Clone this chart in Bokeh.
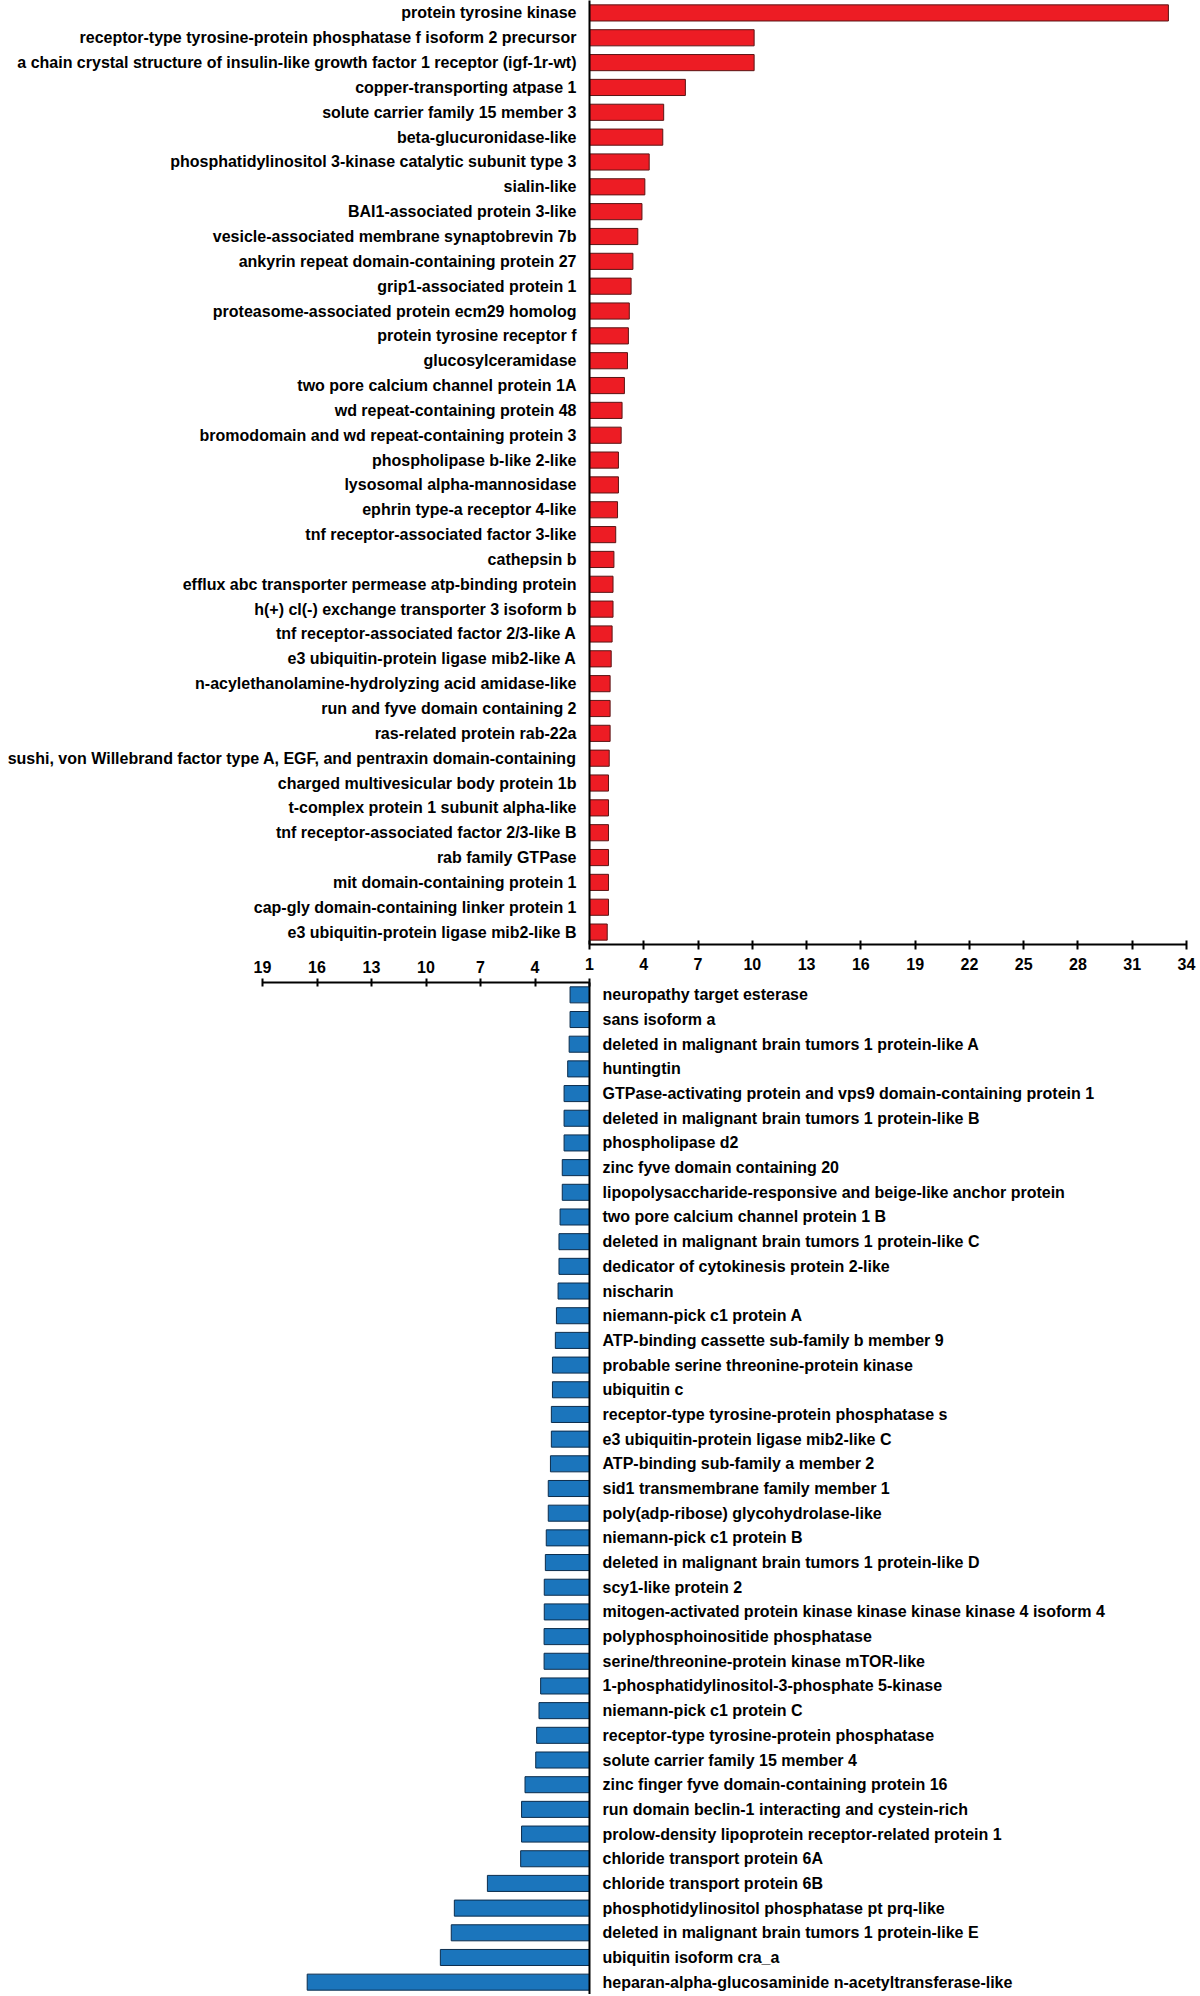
from bokeh.plotting import figure
from bokeh.models import Range1d, FactorRange, FixedTicker, ColumnDataSource
from bokeh.embed import file_html
from bokeh.resources import INLINE

# ---------------- data ----------------
up_genes = [
    "protein tyrosine kinase",
    "receptor-type tyrosine-protein phosphatase f isoform 2 precursor",
    "a chain crystal structure of insulin-like growth factor 1 receptor (igf-1r-wt)",
    "copper-transporting atpase 1",
    "solute carrier family 15 member 3",
    "beta-glucuronidase-like",
    "phosphatidylinositol 3-kinase catalytic subunit type 3",
    "sialin-like",
    "BAI1-associated protein 3-like",
    "vesicle-associated membrane synaptobrevin 7b",
    "ankyrin repeat domain-containing protein 27",
    "grip1-associated protein 1",
    "proteasome-associated protein ecm29 homolog",
    "protein tyrosine receptor f",
    "glucosylceramidase",
    "two pore calcium channel protein 1A",
    "wd repeat-containing protein 48",
    "bromodomain and wd repeat-containing protein 3",
    "phospholipase b-like 2-like",
    "lysosomal alpha-mannosidase",
    "ephrin type-a receptor 4-like",
    "tnf receptor-associated factor 3-like",
    "cathepsin b",
    "efflux abc transporter permease atp-binding protein",
    "h(+) cl(-) exchange transporter 3 isoform b",
    "tnf receptor-associated factor 2/3-like A",
    "e3 ubiquitin-protein ligase mib2-like A",
    "n-acylethanolamine-hydrolyzing acid amidase-like",
    "run and fyve domain containing 2",
    "ras-related protein rab-22a",
    "sushi, von Willebrand factor type A, EGF, and pentraxin domain-containing",
    "charged multivesicular body protein 1b",
    "t-complex protein 1 subunit alpha-like",
    "tnf receptor-associated factor 2/3-like B",
    "rab family GTPase",
    "mit domain-containing protein 1",
    "cap-gly domain-containing linker protein 1",
    "e3 ubiquitin-protein ligase mib2-like B",
]
up_values = [33.0, 10.1, 10.1, 6.3, 5.1, 5.05, 4.3, 4.06, 3.9, 3.67, 3.4, 3.3, 3.2,
             3.15, 3.1, 2.93, 2.8, 2.75, 2.6, 2.6, 2.55, 2.45, 2.35, 2.3, 2.3, 2.25,
             2.2, 2.14, 2.14, 2.14, 2.09, 2.05, 2.05, 2.05, 2.05, 2.05, 2.05, 1.98]

down_genes = [
    "neuropathy target esterase",
    "sans isoform a",
    "deleted in malignant brain tumors 1 protein-like A",
    "huntingtin",
    "GTPase-activating protein and vps9 domain-containing protein 1",
    "deleted in malignant brain tumors 1 protein-like B",
    "phospholipase d2",
    "zinc fyve domain containing 20",
    "lipopolysaccharide-responsive and beige-like anchor protein",
    "two pore calcium channel protein 1 B",
    "deleted in malignant brain tumors 1 protein-like C",
    "dedicator of cytokinesis protein 2-like",
    "nischarin",
    "niemann-pick c1 protein A",
    "ATP-binding cassette sub-family b member 9",
    "probable serine threonine-protein kinase",
    "ubiquitin c",
    "receptor-type tyrosine-protein phosphatase s",
    "e3 ubiquitin-protein ligase mib2-like C",
    "ATP-binding sub-family a member 2",
    "sid1 transmembrane family member 1",
    "poly(adp-ribose) glycohydrolase-like",
    "niemann-pick c1 protein B",
    "deleted in malignant brain tumors 1 protein-like D",
    "scy1-like protein 2",
    "mitogen-activated protein kinase kinase kinase kinase 4 isoform 4",
    "polyphosphoinositide phosphatase",
    "serine/threonine-protein kinase mTOR-like",
    "1-phosphatidylinositol-3-phosphate 5-kinase",
    "niemann-pick c1 protein C",
    "receptor-type tyrosine-protein phosphatase",
    "solute carrier family 15 member 4",
    "zinc finger fyve domain-containing protein 16",
    "run domain beclin-1 interacting and cystein-rich",
    "prolow-density lipoprotein receptor-related protein 1",
    "chloride transport protein 6A",
    "chloride transport protein 6B",
    "phosphotidylinositol phosphatase pt prq-like",
    "deleted in malignant brain tumors 1 protein-like E",
    "ubiquitin isoform cra_a",
    "heparan-alpha-glucosaminide n-acetyltransferase-like",
]
down_values = [2.07, 2.07, 2.12, 2.2, 2.4, 2.4, 2.4, 2.5, 2.5, 2.62, 2.68, 2.68, 2.73,
               2.82, 2.88, 3.04, 3.04, 3.1, 3.1, 3.15, 3.27, 3.27, 3.38, 3.43, 3.49, 3.49,
               3.5, 3.5, 3.69, 3.78, 3.91, 3.96, 4.55, 4.74, 4.74, 4.79, 6.62, 8.44, 8.61,
               9.21, 16.54]

up_ticks = [1, 4, 7, 10, 13, 16, 19, 22, 25, 28, 31, 34]
down_ticks = [19, 16, 13, 10, 7, 4, 1]

# ---------------- style ----------------
FONT = "Liberation Sans"
FS = "16px"
RED = "#ED1C24"
RED_LINE = "#5a1515"
BLUE = "#1B75BC"
BLUE_LINE = "#0c2d4d"


def style_axis(ax):
    ax.major_label_text_font = FONT
    ax.major_label_text_font_style = "bold"
    ax.major_label_text_font_size = FS
    ax.major_label_text_color = "black"
    ax.axis_line_color = "black"
    ax.axis_line_width = 2
    ax.major_tick_line_color = "black"
    ax.major_tick_line_width = 2
    ax.minor_tick_line_color = None


# ---------------- top (up-regulated) ----------------
top = figure(
    frame_width=597, frame_height=944,
    x_range=Range1d(1, 34),
    y_range=FactorRange(factors=up_genes[::-1]),
    output_backend="svg", toolbar_location=None,
    min_border_left=589, min_border_right=14,
    min_border_top=0, min_border_bottom=40,
    border_fill_color=None, background_fill_color=None,
    outline_line_color=None,
)
top.hbar(y="gene", left=1, right="value", height=0.65,
         source=ColumnDataSource(dict(gene=up_genes, value=up_values)),
         fill_color=RED, line_color=RED_LINE, line_width=1)
top.xgrid.visible = False
top.ygrid.visible = False
xa = top.xaxis[0]
style_axis(xa)
xa.ticker = FixedTicker(ticks=up_ticks)
xa.major_tick_in = 4
xa.major_tick_out = 5
xa.major_label_standoff = 8
ya = top.yaxis[0]
style_axis(ya)
ya.major_tick_line_color = None
ya.major_tick_in = 0
ya.major_tick_out = 0
ya.major_label_standoff = 13

# ---------------- bottom (down-regulated) ----------------
bot = figure(
    frame_width=327, frame_height=1012,
    x_range=Range1d(19, 1),
    y_range=FactorRange(factors=down_genes[::-1]),
    x_axis_location="above", y_axis_location="right",
    output_backend="svg", toolbar_location=None,
    min_border_left=262, min_border_right=611,
    min_border_top=38, min_border_bottom=0,
    border_fill_color=None, background_fill_color=None,
    outline_line_color=None,
    margin=(-40, 0, 0, 0),
)
bot.hbar(y="gene", left=1, right="value", height=0.65,
         source=ColumnDataSource(dict(gene=down_genes, value=down_values)),
         fill_color=BLUE, line_color=BLUE_LINE, line_width=1)
bot.xgrid.visible = False
bot.ygrid.visible = False
bxa = bot.xaxis[0]
style_axis(bxa)
bxa.ticker = FixedTicker(ticks=down_ticks)
bxa.major_label_overrides = {1: ""}
bxa.major_tick_in = 4
bxa.major_tick_out = 4
bxa.major_label_standoff = 6
bya = bot.yaxis[0]
style_axis(bya)
bya.major_tick_line_color = None
bya.major_tick_in = 0
bya.major_tick_out = 0
bya.major_label_standoff = 13

open("out.html", "w").write(file_html([top, bot], INLINE))
